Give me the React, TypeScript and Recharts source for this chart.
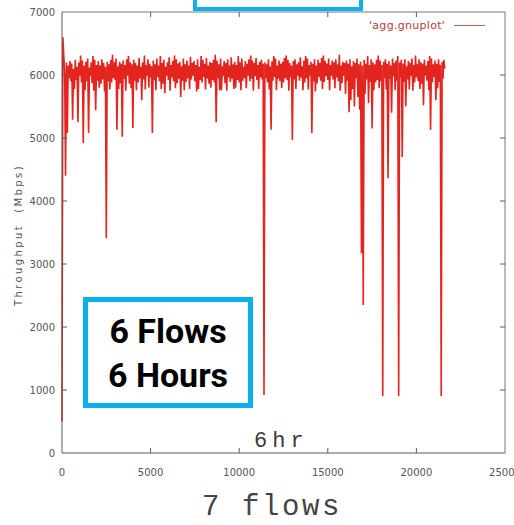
import React from "react";
import { LineChart, Line, XAxis, YAxis, ReferenceLine, Legend } from "recharts";

// sample interval of the trace, in seconds
const STEP_SECONDS = 50;

// aggregate throughput, Mbps, one value per sample
const THROUGHPUT = [
  500, 6600, 6300, 6050, 4400, 6200, 5080, 6150, 5950, 6220,
  5900, 6180, 5290, 6100, 5780, 6240, 5920, 6130, 5250, 6200,
  5980, 6310, 5880, 6230, 4920, 6150, 5760, 6210, 5900, 6260,
  5080, 6120, 5990, 6200, 5870, 6300, 5750, 6240, 5440, 6160,
  5910, 6220, 5800, 6150, 5860, 6250, 5930, 6190, 5740, 6130,
  3410, 6210, 5900, 6170, 5770, 6240, 5880, 6320, 5950, 6200,
  5920, 6260, 5130, 6140, 5780, 6210, 5870, 6180, 5020, 6230,
  5940, 6160, 5750, 6250, 5990, 6300, 5860, 6200, 5790, 6170,
  5160, 6240, 5910, 6190, 5760, 6150, 5880, 6270, 5950, 6130,
  5600, 6200, 5930, 6310, 5770, 6160, 5990, 6250, 5800, 6180,
  5960, 6140, 5080, 6230, 5920, 6170, 5760, 6260, 5970, 6150,
  5900, 6300, 5780, 6190, 5860, 6240, 5710, 6130, 5990, 6200,
  5920, 6280, 5750, 6160, 5960, 6220, 5900, 6310, 5790, 6250,
  5870, 6180, 5940, 6210, 5650, 6140, 5910, 6260, 5760, 6170,
  5890, 6230, 5950, 6150, 5780, 6290, 5930, 6190, 5990, 6220,
  5900, 6160, 5740, 6250, 5780, 6130, 5920, 6300, 5880, 6240,
  5970, 6180, 5770, 6270, 5940, 6150, 5860, 6210, 5800, 6190,
  5920, 6240, 5880, 6320, 5250, 6230, 5950, 6170, 5760, 6260,
  5760, 6140, 5980, 6220, 5870, 6190, 5750, 6250, 5960, 6150,
  5890, 6280, 5940, 6170, 5780, 6210, 5800, 6160, 5920, 6300,
  5880, 6200, 5760, 6260, 5910, 6130, 5950, 6220, 5790, 6180,
  5990, 6250, 5900, 6310, 5940, 6230, 5750, 6190, 5980, 6270,
  5920, 6160, 5780, 6210, 5960, 6240, 5930, 6180, 920, 6200,
  5950, 6170, 5880, 6250, 5770, 6140, 5130, 6220, 5910, 6300,
  5970, 6260, 5760, 6150, 5940, 6230, 5900, 6180, 5790, 6210,
  5880, 6270, 5950, 6310, 5920, 6240, 5750, 6190, 5970, 6150,
  4970, 6220, 5930, 6250, 5780, 6170, 5990, 6200, 5910, 6280,
  5960, 6140, 5760, 6230, 5880, 6300, 5950, 6260, 5770, 6160,
  5990, 6210, 5080, 6180, 5900, 6250, 5740, 6150, 5870, 6240,
  5970, 6190, 5910, 6270, 5780, 6310, 5890, 6220, 5980, 6180,
  5920, 6260, 5760, 6160, 5990, 6230, 5930, 6200, 5790, 6250,
  5960, 6170, 5900, 6320, 5750, 6150, 5870, 6210, 5990, 6190,
  5700, 6230, 5910, 6180, 5410, 6250, 5600, 6140, 5780, 6220,
  5500, 6190, 5950, 6260, 5650, 6170, 5450, 6210, 3170, 6150,
  2350, 6240, 5700, 6180, 5930, 6300, 5550, 6160, 5890, 6250,
  5150, 6200, 5760, 6170, 5880, 6240, 5920, 6310, 5790, 6230,
  5900, 6160, 900, 6210, 5950, 6250, 5770, 6180, 4360, 6220,
  5940, 6150, 5400, 6260, 5980, 6190, 5760, 6230, 5910, 6300,
  900, 6200, 5960, 6240, 4700, 6180, 5890, 6250, 5500, 6140,
  5930, 6220, 5770, 6190, 5990, 6260, 5750, 6160, 5880, 6310,
  5960, 6170, 5900, 6250, 5780, 6200, 5860, 6180, 5520, 6240,
  5990, 6150, 5910, 6220, 5760, 6300, 5130, 6260, 5880, 6170,
  5970, 6230, 5600, 6180, 5790, 6250, 5890, 6160, 900, 6210,
  5940, 6240, 6100,
];

const X_TICKS = [0, 5000, 10000, 15000, 20000, 25000];
const Y_TICKS = [0, 1000, 2000, 3000, 4000, 5000, 6000, 7000];

const SERIES_NAME = "'agg.gnuplot'";

// plot frame in pixels (follows from the chart margins below)
const PLOT_LEFT = 62;
const PLOT_RIGHT = 505;
const PLOT_TOP = 12;
const PLOT_BOTTOM = 453;

const AXIS = "#5a5a5a";
const RED = "#e3241f";
const BLUE = "#0db0ec";

const data = THROUGHPUT.map((v, i) => ({ t: i * STEP_SECONDS, mbps: v }));

function XTick(props: any) {
  const { x, y, payload } = props;
  const inner = payload.value !== 0 && payload.value !== 25000;
  return (
    <g>
      {inner && (
        <>
          <line x1={x} x2={x} y1={PLOT_BOTTOM} y2={PLOT_BOTTOM - 5} stroke={AXIS} />
          <line x1={x} x2={x} y1={PLOT_TOP} y2={PLOT_TOP + 5} stroke={AXIS} />
        </>
      )}
      <text x={x} y={y} textAnchor="middle" fontSize={10} fill="#555" fontFamily="DejaVu Sans">
        {payload.value}
      </text>
    </g>
  );
}

function YTick(props: any) {
  const { x, y, payload } = props;
  const inner = payload.value !== 0 && payload.value !== 7000;
  return (
    <g>
      {inner && (
        <>
          <line x1={PLOT_LEFT} x2={PLOT_LEFT + 5} y1={y} y2={y} stroke={AXIS} />
          <line x1={PLOT_RIGHT} x2={PLOT_RIGHT - 5} y1={y} y2={y} stroke={AXIS} />
        </>
      )}
      <text x={x} y={y} dy="0.35em" textAnchor="end" fontSize={10} fill="#555" fontFamily="DejaVu Sans">
        {payload.value}
      </text>
    </g>
  );
}

function LegendBox() {
  return (
    <div style={{ display: "flex", alignItems: "center", fontFamily: "DejaVu Sans", fontSize: 11, letterSpacing: 0.3, color: "#b5403a" }}>
      <span>{SERIES_NAME}</span>
      <span style={{ display: "inline-block", width: 31, height: 1.5, background: "#d0605a", marginLeft: 9 }} />
    </div>
  );
}

export default function App() {
  return (
    <div style={{ position: "absolute", left: 0, top: 0, width: 514, height: 525, background: "#fff", overflow: "hidden" }}>
      <LineChart width={514} height={525} data={data} margin={{ top: PLOT_TOP, right: 514 - PLOT_RIGHT, left: 0, bottom: 42 }}>
        <XAxis
          dataKey="t"
          type="number"
          domain={[0, 25000]}
          ticks={X_TICKS}
          height={30}
          tickLine={false}
          tickSize={0}
          tickMargin={23}
          tick={<XTick />}
          axisLine={{ stroke: AXIS }}
          interval={0}
        />
        <YAxis
          type="number"
          domain={[0, 7000]}
          ticks={Y_TICKS}
          width={PLOT_LEFT}
          tickLine={false}
          tickSize={0}
          tickMargin={7}
          tick={<YTick />}
          axisLine={{ stroke: AXIS }}
          interval={0}
        />
        <ReferenceLine y={7000} stroke="#777" />
        <ReferenceLine x={25000} stroke="#777" />
        <Legend
          layout="horizontal"
          verticalAlign="middle"
          align="center"
          content={<LegendBox />}
          wrapperStyle={{ left: 369, top: 19, width: 140 }}
        />
        <Line
          type="linear"
          dataKey="mbps"
          name={SERIES_NAME}
          stroke={RED}
          strokeWidth={1.6}
          dot={false}
          isAnimationActive={false}
        />
      </LineChart>

      <div
        style={{
          position: "absolute",
          left: 10,
          top: 235,
          transform: "translate(-50%, -50%) rotate(-90deg)",
          fontFamily: "DejaVu Sans",
          fontSize: 10,
          letterSpacing: 2.4,
          color: "#555",
          whiteSpace: "pre",
          marginLeft: 8,
        }}
      >
        Throughput  (Mbps)
      </div>

      <div style={{ position: "absolute", left: 254, top: 429, fontFamily: "Liberation Mono", fontSize: 22, letterSpacing: 5, color: "#3a3a3a" }}>
        6hr
      </div>

      <div style={{ position: "absolute", left: 202, top: 494, fontFamily: "Liberation Mono", fontSize: 29, lineHeight: "28px", letterSpacing: 2.6, color: "#444", whiteSpace: "pre" }}>
        7 flows
      </div>

      <div style={{ position: "absolute", left: 193, top: -20, width: 170, height: 31, boxSizing: "border-box", border: `4px solid ${BLUE}`, background: "#fff" }} />

      <div
        style={{
          position: "absolute",
          left: 83,
          top: 297,
          width: 170,
          height: 111,
          boxSizing: "border-box",
          border: `5px solid ${BLUE}`,
          background: "#fff",
          display: "flex",
          flexDirection: "column",
          alignItems: "center",
          justifyContent: "center",
          fontFamily: "Roboto",
          fontWeight: 700,
          fontSize: 34,
          lineHeight: "44px",
          color: "#000",
        }}
      >
        <div>6 Flows</div>
        <div>6 Hours</div>
      </div>
    </div>
  );
}
